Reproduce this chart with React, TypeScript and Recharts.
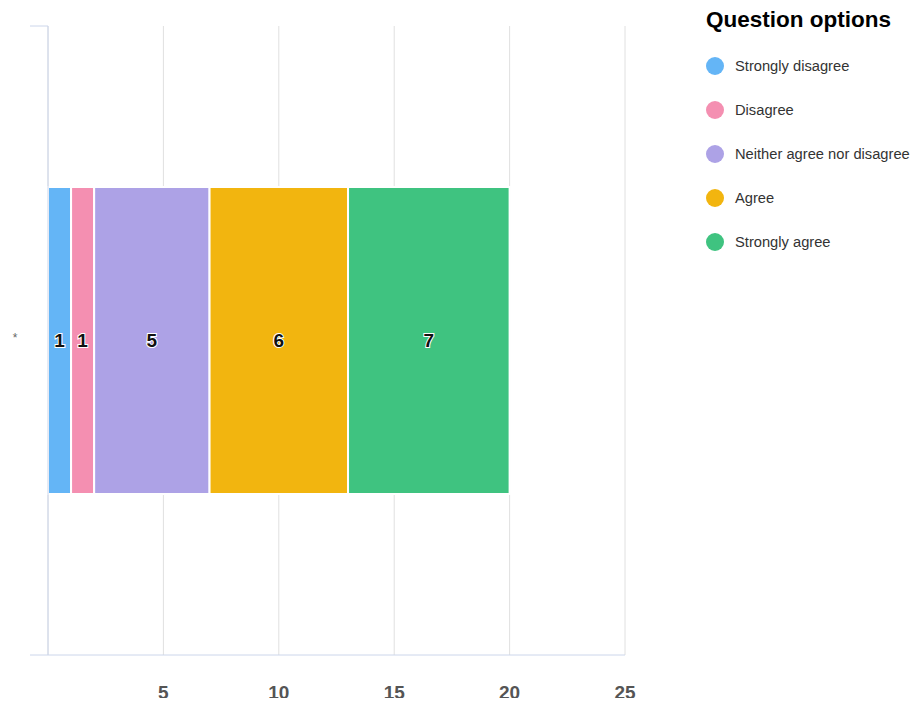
import { BarChart, Bar, XAxis, YAxis, CartesianGrid, Legend, LabelList } from 'recharts';

const categories = ['*'];
const seriesNames = ['Strongly disagree', 'Disagree', 'Neither agree nor disagree', 'Agree', 'Strongly agree'];
const seriesValues = [1, 1, 5, 6, 7];
const seriesColors = ['#64b5f6', '#f48fb1', '#ada2e6', '#f2b50f', '#3fc380'];
const xTicks = [0, 5, 10, 15, 20, 25];

const data = categories.map((name) => {
    const row: any = { name };
    seriesValues.forEach((v, i) => {
        row[`s${i}`] = v;
    });
    return row;
});

const AXIS = '#ccd6eb';
const FONT = '"Liberation Sans", Arial, sans-serif';

// category tick: label plus short lines at the band edges
const CategoryTick = (props: any) => {
    const { x, y, payload } = props;
    const off = payload && typeof payload.offset === 'number' ? payload.offset : 314;
    return (
        <g>
            <line x1={x - 18} x2={x} y1={y - off} y2={y - off} stroke={AXIS} />
            <line x1={x - 18} x2={x} y1={y + off} y2={y + off} stroke={AXIS} />
            <text x={x - 33} y={y - 3} textAnchor="middle" dominantBaseline="central" fill="#666" fontSize={12}>
                {payload.value}
            </text>
        </g>
    );
};

const renderSegmentLabel = (props: any) => {
    const { x, y, width, height, value } = props;
    return (
        <text
            x={x + width / 2}
            y={y + height / 2}
            textAnchor="middle"
            dominantBaseline="central"
            fontSize={19}
            fontWeight="bold"
            fill="#111"
            stroke="#fff"
            strokeWidth={2}
            style={{ paintOrder: 'stroke' }}
        >
            {value}
        </text>
    );
};

const LegendContent = (props: any) => {
    const items = [...(props.payload || [])].sort(
        (a: any, b: any) => seriesNames.indexOf(a.value) - seriesNames.indexOf(b.value)
    );
    return (
        <div style={{ fontFamily: FONT, whiteSpace: 'nowrap' }}>
            <div style={{ fontSize: 22.5, fontWeight: 'bold', color: '#000', height: 26, lineHeight: '26px', paddingLeft: 8 }}>
                Question options
            </div>
            <div style={{ paddingTop: 11 }}>
                {items.map((entry: any) => (
                    <div key={entry.value} style={{ display: 'flex', alignItems: 'center', height: 44 }}>
                        <span
                            style={{
                                display: 'inline-block',
                                flex: 'none',
                                width: 18,
                                height: 18,
                                borderRadius: 9,
                                background: entry.color,
                                marginLeft: 8,
                                marginRight: 11,
                            }}
                        />
                        <span style={{ fontSize: 14.7, color: '#333', flex: 'none' }}>{entry.value}</span>
                    </div>
                ))}
            </div>
        </div>
    );
};

export default function App() {
    return (
        <div style={{ fontFamily: FONT, margin: -8 }}>
            <BarChart
                width={921}
                height={706}
                data={data}
                layout="vertical"
                margin={{ top: 26, right: 296, bottom: 0, left: 0 }}
                barCategoryGap="25.6%"
            >
                <CartesianGrid horizontal={false} stroke="#e0e0e0" />
                <XAxis
                    type="number"
                    domain={[0, 25]}
                    ticks={xTicks}
                    tickFormatter={(v) => (v === 0 ? '' : String(v))}
                    tickLine={false}
                    axisLine={{ stroke: AXIS }}
                    tickMargin={25}
                    height={51}
                    tick={{ fill: '#555', fontSize: 19, fontWeight: 'bold' }}
                />
                <YAxis
                    type="category"
                    dataKey="name"
                    width={48}
                    tickSize={0}
                    tickMargin={0}
                    tickLine={false}
                    axisLine={{ stroke: AXIS }}
                    tick={<CategoryTick />}
                />
                <Legend
                    layout="vertical"
                    align="center"
                    verticalAlign="middle"
                    wrapperStyle={{ left: 698, top: 7, width: 215 }}
                    content={<LegendContent />}
                />
                {seriesNames.map((name, i) => (
                    <Bar
                        key={name}
                        dataKey={`s${i}`}
                        name={name}
                        stackId="a"
                        fill={seriesColors[i]}
                        stroke="#fff"
                        strokeWidth={2}
                        isAnimationActive={false}
                    >
                        <LabelList dataKey={`s${i}`} content={renderSegmentLabel} />
                    </Bar>
                ))}
            </BarChart>
        </div>
    );
}
